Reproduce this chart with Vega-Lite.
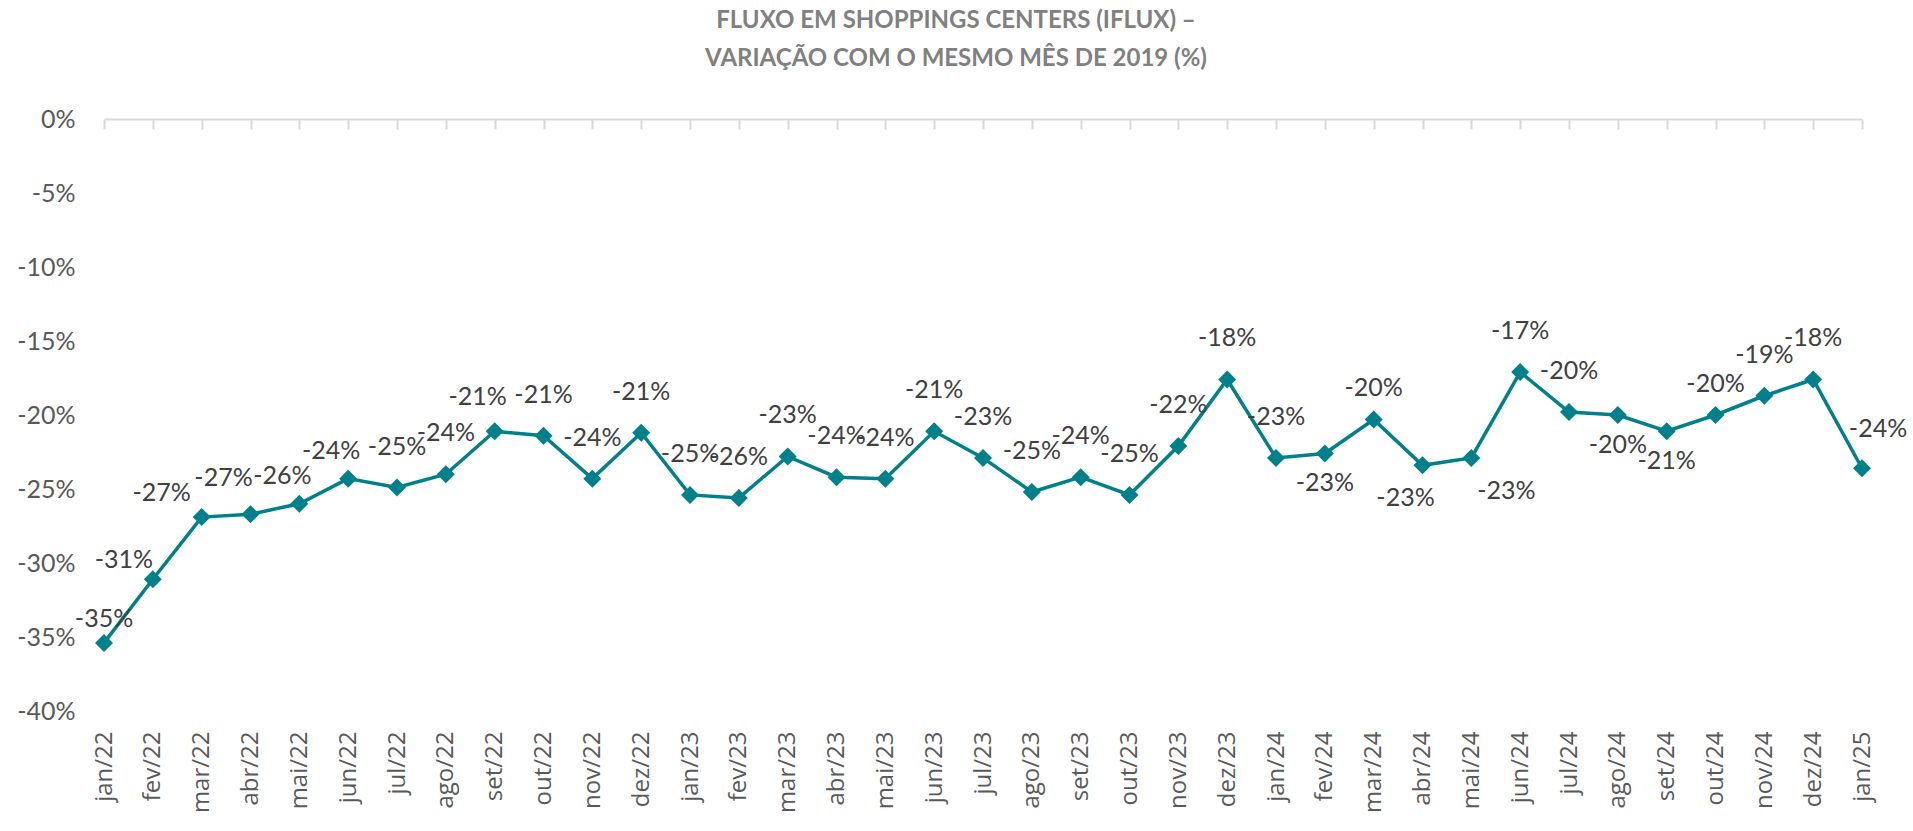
{
  "$schema": "https://vega.github.io/schema/vega-lite/v6.json",
  "autosize": {"type": "none"},
  "width": 1758,
  "height": 592,
  "padding": {"left": 104, "top": 119, "right": 51, "bottom": 120},
  "background": "white",
  "title": {
    "text": ["FLUXO EM SHOPPINGS CENTERS (IFLUX) –", "VARIAÇÃO COM O MESMO MÊS DE 2019 (%)"],
    "font": "Lato",
    "fontSize": 24,
    "fontWeight": "bold",
    "color": "#808080",
    "lineHeight": 38,
    "anchor": "middle",
    "dx": -27,
    "offset": 36
  },
  "data": {
    "values": [
      {"mes": "jan/22", "variacao": -35.4},
      {"mes": "fev/22", "variacao": -31.1},
      {"mes": "mar/22", "variacao": -26.9},
      {"mes": "abr/22", "variacao": -26.7},
      {"mes": "mai/22", "variacao": -26.0},
      {"mes": "jun/22", "variacao": -24.3},
      {"mes": "jul/22", "variacao": -24.9},
      {"mes": "ago/22", "variacao": -24.0},
      {"mes": "set/22", "variacao": -21.1},
      {"mes": "out/22", "variacao": -21.4},
      {"mes": "nov/22", "variacao": -24.3},
      {"mes": "dez/22", "variacao": -21.2},
      {"mes": "jan/23", "variacao": -25.4},
      {"mes": "fev/23", "variacao": -25.6},
      {"mes": "mar/23", "variacao": -22.8},
      {"mes": "abr/23", "variacao": -24.2},
      {"mes": "mai/23", "variacao": -24.3},
      {"mes": "jun/23", "variacao": -21.1},
      {"mes": "jul/23", "variacao": -22.9},
      {"mes": "ago/23", "variacao": -25.2},
      {"mes": "set/23", "variacao": -24.2},
      {"mes": "out/23", "variacao": -25.4},
      {"mes": "nov/23", "variacao": -22.1},
      {"mes": "dez/23", "variacao": -17.6},
      {"mes": "jan/24", "variacao": -22.9},
      {"mes": "fev/24", "variacao": -22.6},
      {"mes": "mar/24", "variacao": -20.3},
      {"mes": "abr/24", "variacao": -23.4},
      {"mes": "mai/24", "variacao": -22.9},
      {"mes": "jun/24", "variacao": -17.1},
      {"mes": "jul/24", "variacao": -19.8},
      {"mes": "ago/24", "variacao": -20.0},
      {"mes": "set/24", "variacao": -21.1},
      {"mes": "out/24", "variacao": -20.0},
      {"mes": "nov/24", "variacao": -18.7},
      {"mes": "dez/24", "variacao": -17.6},
      {"mes": "jan/25", "variacao": -23.6}
    ]
  },
  "transform": [
    {"calculate": "toString(round(datum.variacao)) + '%'", "as": "rotulo"}
  ],
  "encoding": {
    "x": {"field": "mes", "type": "nominal", "sort": null, "axis": null},
    "y": {
      "field": "variacao",
      "type": "quantitative",
      "scale": {"domain": [-40, 0], "nice": false, "zero": false},
      "axis": {
        "values": [0, -5, -10, -15, -20, -25, -30, -35, -40],
        "labelExpr": "datum.value + '%'",
        "title": null,
        "grid": false,
        "domain": false,
        "ticks": false,
        "labelPadding": 29,
        "labelFont": "Lato",
        "labelFontSize": 25,
        "labelColor": "#595959"
      }
    }
  },
  "layer": [
    {
      "mark": {"type": "line", "color": "#00808a", "strokeWidth": 3.5},
      "encoding": {
        "x": {
          "field": "mes",
          "type": "nominal",
          "sort": null,
          "scale": {"type": "point", "padding": 0},
          "axis": {
            "orient": "bottom",
            "title": null,
            "domain": false,
            "ticks": false,
            "labelAngle": -90,
            "labelAlign": "right",
            "labelBaseline": "middle",
            "labelPadding": 20,
            "labelFont": "Open Sans",
            "labelFontSize": 24,
            "labelColor": "#595959"
          }
        }
      }
    },
    {
      "mark": {"type": "point", "shape": "diamond", "filled": true, "size": 324, "color": "#00808a", "opacity": 1},
      "encoding": {
        "x": {
          "field": "mes",
          "type": "nominal",
          "sort": null,
          "axis": {
            "orient": "top",
            "title": null,
            "labels": false,
            "domain": true,
            "domainColor": "#d9d9d9",
            "domainWidth": 2,
            "ticks": true,
            "tickColor": "#d9d9d9",
            "tickWidth": 2,
            "tickSize": -10
          }
        }
      }
    },
    {
      "transform": [{"filter": {"not": {"field": "mes", "oneOf": ["jan/22", "fev/22", "mar/22", "abr/22", "mai/22", "jun/22", "set/22", "mar/24", "out/24", "jan/25", "fev/24", "abr/24", "mai/24", "ago/24", "set/24"]}}}],
      "mark": {"type": "text", "dy": -41, "baseline": "middle", "align": "center", "font": "Lato", "fontSize": 25, "color": "#404040"},
      "encoding": {"text": {"field": "rotulo", "type": "nominal"}}
    },
    {
      "transform": [{"filter": {"field": "mes", "oneOf": ["jan/22"]}}],
      "mark": {"type": "text", "dy": -24, "baseline": "middle", "align": "center", "font": "Lato", "fontSize": 25, "color": "#404040"},
      "encoding": {"text": {"field": "rotulo", "type": "nominal"}}
    },
    {
      "transform": [{"filter": {"field": "mes", "oneOf": ["fev/22"]}}],
      "mark": {"type": "text", "dx": -29, "dy": -19, "baseline": "middle", "align": "center", "font": "Lato", "fontSize": 25, "color": "#404040"},
      "encoding": {"text": {"field": "rotulo", "type": "nominal"}}
    },
    {
      "transform": [{"filter": {"field": "mes", "oneOf": ["mar/22"]}}],
      "mark": {"type": "text", "dx": -40, "dy": -24, "baseline": "middle", "align": "center", "font": "Lato", "fontSize": 25, "color": "#404040"},
      "encoding": {"text": {"field": "rotulo", "type": "nominal"}}
    },
    {
      "transform": [{"filter": {"field": "mes", "oneOf": ["abr/22"]}}],
      "mark": {"type": "text", "dx": -27, "dy": -36, "baseline": "middle", "align": "center", "font": "Lato", "fontSize": 25, "color": "#404040"},
      "encoding": {"text": {"field": "rotulo", "type": "nominal"}}
    },
    {
      "transform": [{"filter": {"field": "mes", "oneOf": ["mai/22", "jun/22"]}}],
      "mark": {"type": "text", "dx": -17, "dy": -28, "baseline": "middle", "align": "center", "font": "Lato", "fontSize": 25, "color": "#404040"},
      "encoding": {"text": {"field": "rotulo", "type": "nominal"}}
    },
    {
      "transform": [{"filter": {"field": "mes", "oneOf": ["set/22"]}}],
      "mark": {"type": "text", "dx": -17, "dy": -34, "baseline": "middle", "align": "center", "font": "Lato", "fontSize": 25, "color": "#404040"},
      "encoding": {"text": {"field": "rotulo", "type": "nominal"}}
    },
    {
      "transform": [{"filter": {"field": "mes", "oneOf": ["mar/24", "out/24"]}}],
      "mark": {"type": "text", "dy": -31, "baseline": "middle", "align": "center", "font": "Lato", "fontSize": 25, "color": "#404040"},
      "encoding": {"text": {"field": "rotulo", "type": "nominal"}}
    },
    {
      "transform": [{"filter": {"field": "mes", "oneOf": ["jan/25"]}}],
      "mark": {"type": "text", "dx": 16, "dy": -39, "baseline": "middle", "align": "center", "font": "Lato", "fontSize": 25, "color": "#404040"},
      "encoding": {"text": {"field": "rotulo", "type": "nominal"}}
    },
    {
      "transform": [{"filter": {"field": "mes", "oneOf": ["fev/24", "ago/24", "set/24"]}}],
      "mark": {"type": "text", "dy": 30, "baseline": "middle", "align": "center", "font": "Lato", "fontSize": 25, "color": "#404040"},
      "encoding": {"text": {"field": "rotulo", "type": "nominal"}}
    },
    {
      "transform": [{"filter": {"field": "mes", "oneOf": ["abr/24"]}}],
      "mark": {"type": "text", "dx": -17, "dy": 33, "baseline": "middle", "align": "center", "font": "Lato", "fontSize": 25, "color": "#404040"},
      "encoding": {"text": {"field": "rotulo", "type": "nominal"}}
    },
    {
      "transform": [{"filter": {"field": "mes", "oneOf": ["mai/24"]}}],
      "mark": {"type": "text", "dx": 35, "dy": 33, "baseline": "middle", "align": "center", "font": "Lato", "fontSize": 25, "color": "#404040"},
      "encoding": {"text": {"field": "rotulo", "type": "nominal"}}
    }
  ],
  "resolve": {"axis": {"x": "independent"}},
  "config": {"view": {"stroke": null}}
}
